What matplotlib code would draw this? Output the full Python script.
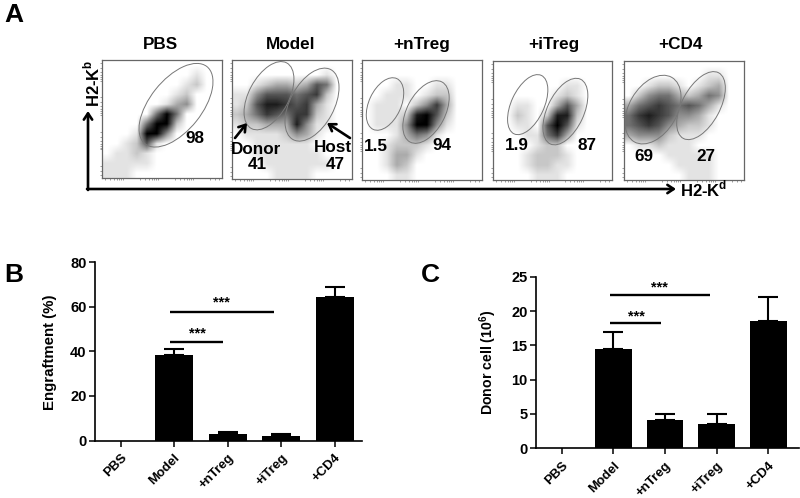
import numpy as np
import matplotlib
matplotlib.use('Agg')
import matplotlib.pyplot as plt
from matplotlib.patches import Ellipse

plt.rcParams['font.family'] = ['Liberation Sans', 'DejaVu Sans']
plt.rcParams['mathtext.fontset'] = 'custom'
plt.rcParams['mathtext.bf'] = 'Liberation Sans:bold'
plt.rcParams['mathtext.rm'] = 'Liberation Sans:bold'

W, H = 800, 498

# ── Data ────────────────────────────────────────────────────────────────────
groups = ['PBS', 'Model', '+nTreg', '+iTreg', '+CD4']

engraft = [0, 38.5, 2.8, 2.0, 64.5]
engraft_top = [0, 41, 3.8, 2.7, 69]
donor = [0, 14.5, 4.1, 3.6, 18.5]
donor_top = [0, 17, 5, 5, 22]

# dot density of the flow plots, read by eye on a 12x12 grid (0 white, 9 black)
dens_pbs = ["000000000000", "000000000100", "000000001200", "000000012000",
            "000000134000", "000005950000", "000059920000", "000199400000",
            "001261000000", "011210000000", "111110000000", "111000000000"]
dens_model = ["000000000000", "000000000100", "001233236500", "114666567200",
              "126887673100", "235765772100", "122333841100", "011112431000",
              "001111110000", "001111111000", "000111111100", "000011110000"]
dens_ntreg = ["000000000000", "000000000000", "000110011000", "001110122000",
              "011102473000", "011128962000", "011149941000", "000135410000",
              "001222100000", "001331000000", "001320000000", "000110000000"]
dens_itreg = ["000000000000", "000000000000", "000000011000", "000000121000",
              "001100363000", "002102882000", "001106961000", "000115730000",
              "000012200000", "000122210000", "000122110000", "000011100000"]
dens_cd4 = ["000000000000", "000000001100", "001221012300", "024553235400",
            "356765653100", "578764431000", "567643221000", "344421110000",
            "011211100000", "000011111000", "000001111000", "000000111000"]
densities = [dens_pbs, dens_model, dens_ntreg, dens_itreg, dens_cd4]

fig = plt.figure(figsize=(W / 100, H / 100), dpi=100)


def px_axes(left, top, right, bottom):
    return fig.add_axes([left / W, 1 - bottom / H, (right - left) / W, (bottom - top) / H])


# ── A: flow panels ──────────────────────────────────────────────────────────
panel_boxes = [(102, 60, 222, 178), (232, 60, 352, 179), (362, 60, 482, 180),
               (493, 61, 612, 180), (624, 61, 744, 180)]
# gates in panel pixels: centre x, centre y, long, short, angle
gates = [
    [(74, 46, 100, 52, -52)],
    [(37, 36, 75, 40, -62), (80, 45, 80, 44, -62)],
    [(23, 44, 56, 32, -65), (64, 52, 68, 38, -62)],
    [(35, 44, 65, 33, -65), (73, 51, 72, 37, -65)],
    [(29, 49, 75, 48, -60), (77, 45, 75, 38, -62)],
]
log_ticks = [3, 8, 12, 15, 17, 19, 21, 38, 43, 47, 50, 52, 54, 56, 73, 78, 82, 85, 87, 89, 91, 108, 113, 117]

for box, dens, gate in zip(panel_boxes, densities, gates):
    ax = px_axes(*box)
    grid = np.array([[int(c) for c in row] for row in dens], dtype=float)
    ax.imshow(grid, cmap='gray_r', vmin=0, vmax=9, extent=(0, 120, 120, 0),
              interpolation='bilinear', aspect='auto')
    for cx, cy, w, h, ang in gate:
        ax.add_patch(Ellipse((cx, cy), w, h, angle=ang, fill=False, ec='#777777', lw=0.7))
    ax.set_xlim(0, 120)
    ax.set_ylim(120, 0)
    ax.set_xticks(log_ticks)
    ax.set_yticks(log_ticks)
    ax.tick_params(length=1.2, width=0.4, color='#555555', labelbottom=False, labelleft=False)
    for s in ax.spines.values():
        s.set_color('#666666')
        s.set_linewidth(0.9)

# ── Overlay in figure pixels (text and arrows of panel A) ───────────────────
ov = fig.add_axes([0, 0, 1, 1], zorder=10)
ov.set_xlim(0, W)
ov.set_ylim(H, 0)
ov.axis('off')

title_x = [160, 290.7, 421.7, 554, 680]
for tx, g in zip(title_x, groups):
    ov.text(tx, 44, g, ha='center', va='center', fontsize=12.3, fontweight='bold')

for txt, x, y in [('98', 195, 138.5), ('41', 257.5, 164), ('47', 335, 164),
                  ('Donor', 256.5, 149.5), ('Host', 333, 147.5),
                  ('1.5', 376, 146), ('94', 441.5, 145.5), ('1.9', 516.5, 145.5),
                  ('87', 586.5, 145.5), ('69', 643.5, 156.5), ('27', 706, 156.5)]:
    ov.text(x, y, txt, ha='center', va='center', fontsize=12.3, fontweight='bold')

for txt, x, y in [('A', 13.5, 14.5), ('B', 14, 275), ('C', 430, 275)]:
    ov.text(x, y, txt, ha='center', va='center', fontsize=19, fontweight='bold')

arrow = dict(arrowstyle='->,head_width=0.3,head_length=0.45', color='black', lw=1.9,
             shrinkA=0, shrinkB=0)
ov.annotate('', xy=(88, 111), xytext=(88, 190), arrowprops=arrow)
ov.annotate('', xy=(676, 189), xytext=(87, 189), arrowprops=arrow)
ov.annotate('', xy=(247, 123), xytext=(235, 138), arrowprops=arrow)
ov.annotate('', xy=(327, 123), xytext=(350, 138), arrowprops=arrow)
ov.text(92, 83, r'H2-K$^{\mathbf{b}}$', rotation=90, ha='center', va='center',
        fontsize=12, fontweight='bold')
ov.text(680, 189, r'H2-K$^{\mathbf{d}}$', ha='left', va='center', fontsize=12, fontweight='bold')


# ── B, C: bar charts ────────────────────────────────────────────────────────
def bar_panel(box, values, tops, ylim, yticks, ylabel, label_xy, label_size, xlim, sig_y, star_y, cap):
    ax = px_axes(*box)
    x = np.arange(len(groups))
    ax.bar(x, values, width=0.71, color='black')
    err = np.array(tops[1:]) - np.array(values[1:])
    ax.errorbar(x[1:], values[1:], yerr=[np.zeros(len(err)), err], fmt='none', ecolor='black',
                elinewidth=1.5, capsize=cap, capthick=1.5)
    ax.plot([0.93, 1.92], [sig_y[0]] * 2, color='black', lw=1.7, solid_capstyle='butt')
    ax.plot([0.93, 2.87], [sig_y[1]] * 2, color='black', lw=1.7, solid_capstyle='butt')
    ax.text(1.44, star_y[0], '***', ha='center', va='center', fontsize=10.5, fontweight='bold')
    ax.text(1.89, star_y[1], '***', ha='center', va='center', fontsize=10.5, fontweight='bold')
    ax.set_xlim(*xlim)
    ax.set_ylim(*ylim)
    ax.set_yticks(yticks)
    ax.set_xticks(x)
    ax.set_xticklabels(groups, rotation=45, ha='right', rotation_mode='anchor',
                       fontsize=9.5, fontweight='bold')
    ax.tick_params(axis='y', labelsize=10.5, length=4, width=1.1, pad=2)
    ax.tick_params(axis='x', length=4, width=1.1, pad=4)
    for lab in ax.get_yticklabels():
        lab.set_fontweight('bold')
    ax.set_ylabel(ylabel, fontsize=label_size, fontweight='bold')
    ax.yaxis.set_label_coords(*label_xy)
    ax.spines['top'].set_visible(False)
    ax.spines['right'].set_visible(False)
    ax.spines['left'].set_linewidth(1.2)
    ax.spines['bottom'].set_linewidth(1.2)
    ax.patch.set_alpha(0)


bar_panel((95, 262.3, 362, 440.5), engraft, engraft_top, (0, 80), [0, 20, 40, 60, 80],
          'Engraftment (%)', (-0.142, 0.497), 10.8, (-0.48, 4.51), (44.3, 57.7), (48, 62), 7.5)
bar_panel((536, 276.7, 799, 448.3), donor, donor_top, (0, 25), [0, 5, 10, 15, 20, 25],
          r'Donor cell (10$^{\mathbf{6}}$)', (-0.141, 0.5), 10.2, (-0.497, 4.59), (18.2, 22.4), (19.2, 23.5), 7)

fig.savefig('out.png', dpi=100, facecolor='white')
